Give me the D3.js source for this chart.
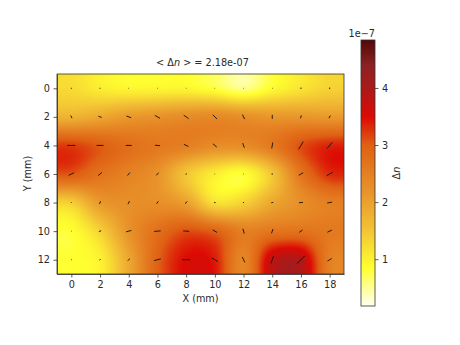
<!DOCTYPE html>
<html><head><meta charset="utf-8">
<script src="https://cdn.jsdelivr.net/npm/d3@7"></script>
<style>html,body{margin:0;padding:0;background:#fff}svg{display:block}text{font-family:"DejaVu Sans",sans-serif;font-size:9.7px;fill:#2a2a2a}</style>
</head><body><svg id="c" width="460" height="345"></svg>
<script>
const xValues=[0,2,4,6,8,10,12,14,16,18];
const yValues=[0,2,4,6,8,10,12];
const xTicks=[0,2,4,6,8,10,12,14,16,18];
const yTicks=[0,2,4,6,8,10,12];
const cbarTicks=[1,2,3,4];
const deltaN=[
[1.25,1.05,0.95,0.95,0.95,0.8,0.55,0.9,1.15,1.35],
[1.75,1.9,2.1,2.2,2.3,2.35,2.25,2.15,2.15,2.1],
[3.2,3.0,2.75,2.6,2.5,2.3,2.3,2.6,3.1,3.35],
[3.05,2.7,2.45,2.2,1.5,1.05,0.85,1.5,2.65,3.3],
[1.4,2.1,2.25,2.25,2.0,1.2,1.35,1.9,2.25,2.5],
[0.85,1.35,2.2,2.75,3.1,2.95,2.5,2.65,2.7,2.6],
[0.85,1.0,1.9,2.95,3.5,3.4,2.4,3.75,3.85,2.5]];
const quiverMag=[
[1,1,.5,.5,.5,.5,.5,.5,1.5,1.5],
[3,3.5,5,6,6,6,5,4,3,3],
[8,7,6,5,5,5,5,6,9,8],
[6,5,4,3.5,1.5,.5,.5,1.5,5,7],
[.7,3,3.5,3,3,1.5,1,2,4,5],
[.5,2.5,5.5,6.5,6,5,5,4.5,4,5],
[.7,1.5,3,7,8,7,6,8,11,5]];
const quiverAngle=[
[90,90,0,0,0,0,0,0,90,90],
[115,160,160,150,145,135,115,90,75,60],
[180,180,180,175,155,140,110,80,60,50],
[25,40,50,50,70,0,0,0,30,30],
[90,70,65,55,40,0,90,10,5,10],
[0,20,15,5,175,150,105,70,35,25],
[0,50,40,15,0,150,115,70,45,30]];
const cmapStops=[0.18,0.85,1.5,2.2,3.0,3.5,4.0,4.4,4.84];
const cmapColors=["#fffff2","#ffff30","#f3c435","#e8922a","#df6014","#dc0a04","#aa1a1a","#8c2222","#520808"];

const svg=d3.select("#c");
const x=d3.scaleLinear().domain([-1,19]).range([57,344]);
const y=d3.scaleLinear().domain([-1,13]).range([74,274]);
const color=d3.scaleLinear().domain(cmapStops).range(cmapColors).interpolate(d3.interpolateRgb).clamp(true);
const cb=d3.scaleLinear().domain([0.18,4.84]).range([306,40]);
const lenScale=d3.scaleLinear().domain([0,10]).range([0,10]);

function kern(t){t=Math.abs(t);const a=-0.5;
 if(t<1)return (a+2)*t*t*t-(a+3)*t*t+1;
 if(t<2)return a*t*t*t-5*a*t*t+8*a*t-4*a;return 0;}
function sample(dx,dy){
 const u=(dx-xValues[0])/2,v=(dy-yValues[0])/2;
 const iu=Math.floor(u),iv=Math.floor(v);let s=0;
 for(let j=-1;j<=2;j++)for(let i=-1;i<=2;i++){
  const r=Math.min(yValues.length-1,Math.max(0,iv+j)),c=Math.min(xValues.length-1,Math.max(0,iu+i));
  s+=deltaN[r][c]*kern(u-iu-i)*kern(v-iv-j);}
 return s;}
const [px0,px1]=x.range(),[py0,py1]=y.range();
const w=Math.round(px1-px0),h=Math.round(py1-py0);
const cv=document.createElement("canvas");cv.width=w;cv.height=h;
const ctx=cv.getContext("2d"),img=ctx.createImageData(w,h);
for(let j=0;j<h;j++)for(let i=0;i<w;i++){
 const c=d3.rgb(color(sample(x.invert(px0+i+.5),y.invert(py0+j+.5))));
 const k=(j*w+i)*4;img.data[k]=c.r;img.data[k+1]=c.g;img.data[k+2]=c.b;img.data[k+3]=255;}
ctx.putImageData(img,0,0);
svg.append("image").attr("x",px0).attr("y",py0).attr("width",w).attr("height",h).attr("href",cv.toDataURL());

const q=[];
yValues.forEach((yv,r)=>xValues.forEach((xv,c)=>q.push({xv,yv,m:quiverMag[r][c],a:quiverAngle[r][c]})));
svg.append("g").selectAll("line").data(q).join("line")
 .attr("x1",d=>x(d.xv)-lenScale(d.m)/2*Math.cos(d.a*Math.PI/180))
 .attr("y1",d=>y(d.yv)+lenScale(d.m)/2*Math.sin(d.a*Math.PI/180))
 .attr("x2",d=>x(d.xv)+lenScale(d.m)/2*Math.cos(d.a*Math.PI/180))
 .attr("y2",d=>y(d.yv)-lenScale(d.m)/2*Math.sin(d.a*Math.PI/180))
 .attr("stroke","#111").attr("stroke-width",.9);

function style(g){g.select(".domain").attr("stroke","#333").attr("stroke-width",.8);
 g.selectAll(".tick line").attr("stroke","#333").attr("stroke-width",.8);
 g.selectAll("text").attr("fill","#2a2a2a").style("font-size","9.7px").style("font-family",'"DejaVu Sans",sans-serif');}
svg.append("g").attr("transform",`translate(0,${py1})`).call(d3.axisBottom(x).tickValues(xTicks).tickSize(3.5).tickPadding(3.5).tickSizeOuter(0)).call(style);
svg.append("g").attr("transform",`translate(${px0},0)`).call(d3.axisLeft(y).tickValues(yTicks).tickSize(3.5).tickPadding(3.5).tickSizeOuter(0)).call(style);
svg.append("rect").attr("x",px0).attr("y",py0).attr("width",px1-px0).attr("height",py1-py0).attr("fill","none").attr("stroke","#333").attr("stroke-width",.8);

svg.append("g").selectAll("rect").data(d3.range(0,266)).join("rect")
 .attr("x",361).attr("width",14).attr("y",d=>40+d).attr("height",1.2)
 .attr("fill",d=>color(cb.invert(40+d+.5)));
svg.append("rect").attr("x",361).attr("y",40).attr("width",14).attr("height",266).attr("fill","none").attr("stroke","#333").attr("stroke-width",.8);
svg.append("g").attr("transform","translate(375,0)").call(d3.axisRight(cb).tickValues(cbarTicks).tickFormat(d3.format("d")).tickSize(3.5).tickPadding(3.5)).call(g=>g.select(".domain").remove()).call(style);
svg.append("text").attr("x",375).attr("y",37).attr("text-anchor","end").text("1e\u22127");

const T=(xp,yp,parts,rot)=>{const t=svg.append("text").attr("text-anchor","middle");
 if(rot)t.attr("transform",`translate(${xp},${yp}) rotate(-90)`);else t.attr("x",xp).attr("y",yp);
 parts.forEach(([s,it])=>t.append("tspan").attr("font-style",it?"italic":null).text(s));};
T(202.5,66,[["< \u0394",0],["n",1],[" > = 2.18e-07",0]]);
T(200.5,302,[["X (mm)",0]]);
T(31,173.5,[["Y (mm)",0]],true);
T(400,173,[["\u0394",0],["n",1]],true);
</script></body></html>
